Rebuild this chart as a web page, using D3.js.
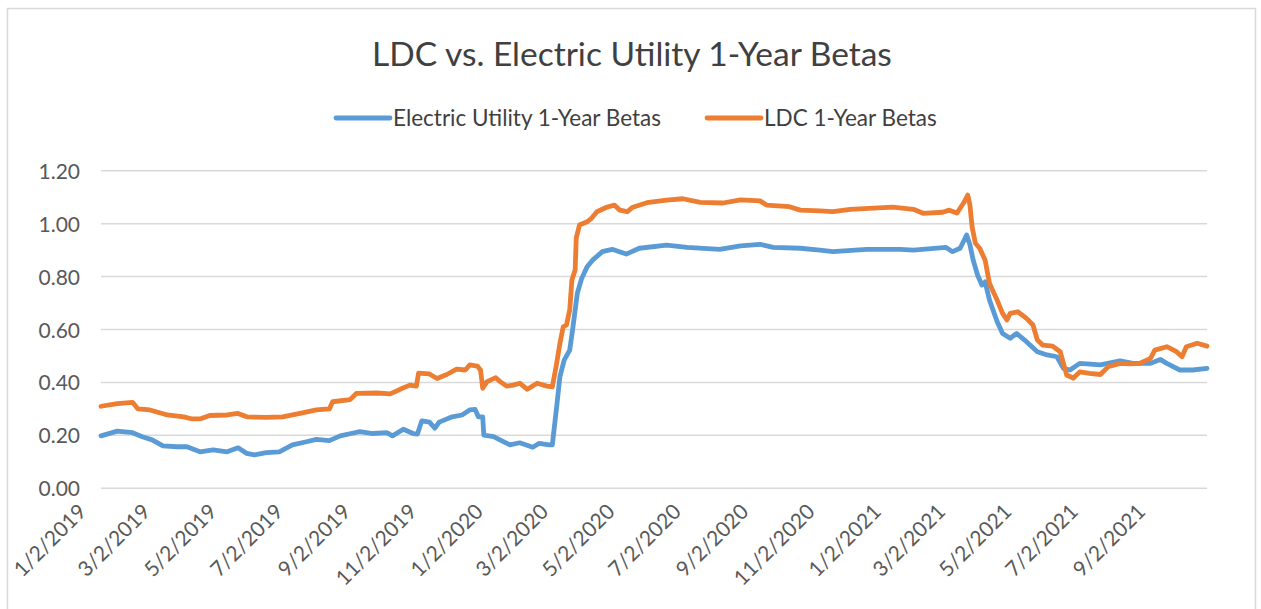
<!DOCTYPE html>
<html lang="en">
<head>
  <meta charset="UTF-8">
  <title>LDC vs. Electric Utility 1-Year Betas</title>
  <script src="https://d3js.org/d3.v7.min.js"></script>
  <style>
    body { margin: 0; background: #fff; }
    svg text { font-family: Lato, "Open Sans", sans-serif; }
    .grid line { stroke: #d9d9d9; stroke-width: 1.5; }
    .series { fill: none; stroke-width: 4.8; stroke-linejoin: round; stroke-linecap: round; }
  </style>
</head>
<body>
  <div id="chart"></div>

  <script>
    // Category ticks shown on the x axis (every 2 months)
    const tickLabels = ["1/2/2019", "3/2/2019", "5/2/2019", "7/2/2019", "9/2/2019", "11/2/2019",
      "1/2/2020", "3/2/2020", "5/2/2020", "7/2/2020", "9/2/2020", "11/2/2020",
      "1/2/2021", "3/2/2021", "5/2/2021", "7/2/2021", "9/2/2021"];
    const yTicks = [0, 0.2, 0.4, 0.6, 0.8, 1.0, 1.2];

    // Electric Utility 1-Year Betas
    const elecDates = ["2019-01-02","2019-01-17","2019-01-31","2019-02-09","2019-02-18","2019-02-28","2019-03-13","2019-03-22",
      "2019-04-03","2019-04-15","2019-04-28","2019-05-08","2019-05-16","2019-05-23","2019-06-03","2019-06-15","2019-06-27",
      "2019-07-10","2019-07-19","2019-07-31","2019-08-10","2019-08-21","2019-08-28","2019-09-09","2019-09-22","2019-09-27",
      "2019-10-07","2019-10-16","2019-10-20","2019-10-24","2019-10-31","2019-11-05","2019-11-09","2019-11-21","2019-11-30",
      "2019-12-07","2019-12-12","2019-12-15","2019-12-19","2019-12-20","2019-12-29","2020-01-07","2020-01-13","2020-01-22",
      "2020-02-03","2020-02-09","2020-02-18","2020-02-21","2020-02-25","2020-02-28","2020-03-03","2020-03-08","2020-03-11",
      "2020-03-15","2020-03-19","2020-03-24","2020-03-29","2020-04-07","2020-04-16","2020-04-29","2020-05-11","2020-06-05",
      "2020-06-24","2020-07-24","2020-08-12","2020-08-30","2020-09-11","2020-10-06","2020-10-24","2020-11-05","2020-12-06",
      "2021-01-06","2021-01-18","2021-02-17","2021-02-23","2021-03-02","2021-03-08","2021-03-11","2021-03-14","2021-03-18",
      "2021-03-22","2021-03-25","2021-03-29","2021-04-05","2021-04-10","2021-04-17","2021-04-23","2021-05-02","2021-05-12",
      "2021-05-21","2021-05-30","2021-06-05","2021-06-11","2021-06-20","2021-07-09","2021-07-27","2021-08-08","2021-08-24",
      "2021-09-02","2021-09-08","2021-09-20","2021-10-02","2021-10-15"];
    const elecBetas = [0.198,0.216,0.21,0.195,0.183,0.16,0.157,0.157,
      0.138,0.145,0.138,0.153,0.132,0.126,0.135,0.138,0.164,
      0.176,0.185,0.18,0.198,0.208,0.214,0.207,0.21,0.198,
      0.223,0.207,0.205,0.255,0.25,0.227,0.25,0.27,0.277,
      0.296,0.298,0.27,0.27,0.201,0.195,0.176,0.164,0.172,
      0.155,0.17,0.164,0.164,0.308,0.422,0.485,0.522,0.61,
      0.737,0.793,0.837,0.862,0.894,0.903,0.885,0.907,0.919,
      0.91,0.903,0.916,0.922,0.91,0.907,0.9,0.894,0.903,
      0.903,0.9,0.91,0.894,0.907,0.957,0.92,0.862,0.806,
      0.768,0.78,0.711,0.63,0.585,0.567,0.585,0.554,0.516,
      0.504,0.497,0.453,0.447,0.472,0.466,0.482,0.472,0.472,
      0.487,0.472,0.447,0.447,0.453];

    // LDC 1-Year Betas
    const ldcDates = ["2019-01-02","2019-01-17","2019-01-31","2019-02-05","2019-02-16","2019-03-04","2019-03-19","2019-03-27",
      "2019-04-03","2019-04-12","2019-04-28","2019-05-08","2019-05-16","2019-06-03","2019-06-18","2019-07-04","2019-07-19",
      "2019-07-31","2019-08-03","2019-08-19","2019-08-25","2019-09-13","2019-09-25","2019-10-04","2019-10-13","2019-10-19",
      "2019-10-21","2019-10-31","2019-11-07","2019-11-16","2019-11-25","2019-12-03","2019-12-07","2019-12-14","2019-12-17",
      "2019-12-19","2019-12-23","2019-12-31","2020-01-04","2020-01-10","2020-01-16","2020-01-22","2020-01-29","2020-02-07",
      "2020-02-16","2020-02-21","2020-02-25","2020-02-28","2020-03-02","2020-03-05","2020-03-08","2020-03-10","2020-03-13",
      "2020-03-14","2020-03-17","2020-03-24","2020-03-28","2020-04-02","2020-04-11","2020-04-18","2020-04-23","2020-04-30",
      "2020-05-05","2020-05-18","2020-06-05","2020-06-20","2020-07-06","2020-07-27","2020-08-12","2020-08-30","2020-09-05",
      "2020-09-26","2020-10-06","2020-10-24","2020-11-05","2020-11-21","2020-12-30","2021-01-18","2021-01-27","2021-02-14",
      "2021-02-20","2021-02-27","2021-03-05","2021-03-09","2021-03-11","2021-03-13","2021-03-16","2021-03-20","2021-03-25",
      "2021-03-29","2021-04-05","2021-04-10","2021-04-14","2021-04-17","2021-04-24","2021-05-02","2021-05-08","2021-05-12",
      "2021-05-17","2021-05-26","2021-06-02","2021-06-05","2021-06-08","2021-06-14","2021-06-20","2021-06-29","2021-07-09",
      "2021-07-16","2021-07-27","2021-08-05","2021-08-14","2021-08-24","2021-08-28","2021-09-08","2021-09-17","2021-09-22",
      "2021-09-26","2021-10-06","2021-10-15"];
    const ldcBetas = [0.31,0.32,0.325,0.30,0.296,0.277,0.27,0.262,
      0.262,0.275,0.277,0.283,0.27,0.268,0.27,0.283,0.296,
      0.30,0.327,0.335,0.359,0.36,0.357,0.374,0.39,0.386,
      0.435,0.432,0.415,0.43,0.45,0.447,0.466,0.462,0.447,
      0.378,0.403,0.418,0.403,0.386,0.39,0.397,0.374,0.397,
      0.386,0.383,0.472,0.548,0.61,0.617,0.674,0.787,0.825,
      0.945,0.995,1.007,1.02,1.045,1.062,1.07,1.051,1.045,
      1.062,1.079,1.089,1.094,1.08,1.078,1.09,1.086,1.07,
      1.064,1.051,1.048,1.045,1.054,1.062,1.054,1.039,1.043,
      1.051,1.04,1.077,1.108,1.07,0.988,0.926,0.907,0.862,
      0.774,0.711,0.661,0.636,0.661,0.667,0.642,0.617,0.56,
      0.541,0.537,0.516,0.472,0.428,0.416,0.44,0.434,0.43,
      0.459,0.472,0.47,0.472,0.491,0.522,0.535,0.516,0.497,
      0.535,0.548,0.537];

    const W = 1261, H = 609;
    const parseISO = d3.timeParse("%Y-%m-%d");
    const parseUS = d3.timeParse("%m/%d/%Y");

    const series = [
      { name: "Electric Utility 1-Year Betas", color: "#5b9bd5",
        values: elecDates.map((d, i) => ({ date: parseISO(d), v: elecBetas[i] })) },
      { name: "LDC 1-Year Betas", color: "#ed7d31",
        values: ldcDates.map((d, i) => ({ date: parseISO(d), v: ldcBetas[i] })) }
    ];

    const svg = d3.select("#chart").append("svg")
      .attr("width", W).attr("height", H);

    // chart frame
    svg.append("rect")
      .attr("x", 7.5).attr("y", 8.5)
      .attr("width", 1248).attr("height", 640)
      .attr("fill", "none").attr("stroke", "#d9d9d9").attr("stroke-width", 1.5);

    const x = d3.scaleTime()
      .domain([parseISO("2019-01-02"), parseISO("2021-10-15")])
      .range([101, 1207]);
    const y = d3.scaleLinear().domain([0, 1.2]).range([488.3, 170.7]);

    // horizontal gridlines
    svg.append("g").attr("class", "grid")
      .selectAll("line").data(yTicks).enter().append("line")
        .attr("x1", 101).attr("x2", 1207)
        .attr("y1", d => y(d)).attr("y2", d => y(d));

    // y axis labels
    const yAxis = svg.append("g")
      .attr("transform", "translate(80,0)")
      .call(d3.axisLeft(y).tickValues(yTicks).tickFormat(d3.format(".2f")).tickSize(0).tickPadding(0));
    yAxis.select(".domain").remove();
    yAxis.selectAll("text")
      .attr("fill", "#595959").style("font-size", "21px").attr("dy", "0.36em");

    // x axis labels, rotated
    const xAxis = svg.append("g")
      .attr("transform", "translate(0,489)")
      .call(d3.axisBottom(x).tickValues(tickLabels.map(parseUS))
        .tickFormat(d3.timeFormat("%-m/%-d/%Y")).tickSize(0).tickPadding(0));
    xAxis.select(".domain").remove();
    xAxis.selectAll("text")
      .attr("fill", "#595959").style("font-size", "21px")
      .attr("text-anchor", "end")
      .attr("y", 0).attr("dy", 0)
      .attr("transform", "translate(-14,24) rotate(-45)");

    // lines
    const line = d3.line().x(d => x(d.date)).y(d => y(d.v));
    svg.selectAll(".series").data(series).enter().append("path")
      .attr("class", "series")
      .attr("stroke", d => d.color)
      .attr("d", d => line(d.values));

    // title
    svg.append("text")
      .attr("x", 632).attr("y", 66)
      .attr("text-anchor", "middle")
      .attr("fill", "#404040").style("font-size", "33.5px")
      .text("LDC vs. Electric Utility 1-Year Betas");

    // legend
    const legendPos = [336, 707];
    const legend = svg.selectAll(".legend").data(series).enter().append("g")
      .attr("transform", (d, i) => `translate(${legendPos[i]},118)`);
    legend.append("line")
      .attr("x1", 0).attr("x2", 54).attr("y1", 0).attr("y2", 0)
      .attr("stroke", d => d.color).attr("stroke-width", 4.8).attr("stroke-linecap", "round");
    legend.append("text")
      .attr("x", 57).attr("y", 0).attr("dy", "0.36em")
      .attr("fill", "#404040").style("font-size", "22.5px")
      .text(d => d.name);
  </script>
</body>
</html>
